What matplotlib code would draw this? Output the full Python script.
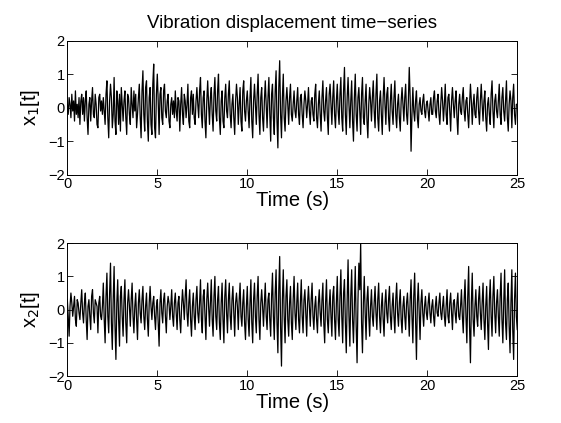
import matplotlib.pyplot as plt
import numpy as np

plt.rcParams['font.family'] = ['Liberation Sans', 'DejaVu Sans']

time_step = 0.05
x1_values = [
    0.1, -0.2, 0.3, 0.1, -0.3, 0.4, -0.1, 0.2, -0.4, 0.5, -0.2, 0.1, -0.3, 0.3, -0.5, 0.2, 0.4, -0.2, 0.3, -0.4,
    0.2, 0.5, -0.3, -0.8, 0.1, 0.3, -0.4, 0.2, 0.6, -0.2, -0.3, 0.4, 0.1, -0.5, -0.6, 0.3, 0.4, -0.1, 0.2, -0.2,
    0.3, -0.1, -0.5, 0.4, 0.8, -0.3, -0.9, 0.2, 0.7, 0.3, -0.6, -0.2, 0.9, -0.4, -0.8, 0.5, 0.2, -0.5, 0.4, -0.7,
    0.6, 0.1, -0.4, 0.2, 0.5, -0.3, -0.8, 0.4, 0.3, -0.2, -0.5, 0.6, 0.1, -0.3, 0.5, -0.1, 0.4, -0.6, -0.2, 0.3,
    0.7, -0.3, -0.9, 0.5, 1.1, -0.2, -0.7, 0.6, 0.8, -0.4, -1.0, 0.3, 0.6, -0.5, -0.8, 0.7, 1.3, -0.6, -0.9, 0.4,
    1.0, 0.2, -0.8, 0.4, 0.6, -0.3, -0.5, 0.5, 0.7, -0.1, -0.3, 0.2, 0.4, -0.4, -0.6, 0.1, 0.3, -0.2, 0.2, -0.3,
    0.5, -0.1, -0.4, 0.3, 0.2, -0.7, 0.1, 0.6, -0.2, -0.5, 0.4, 0.2, -0.3, 0.1, 0.7, -0.4, -0.6, 0.3, 0.5, -0.2,
    0.4, -0.3, -0.5, 0.2, 0.6, 0.1, -0.3, 0.5, 0.9, -0.2, -0.6, 0.3, 0.5, -0.4, -0.9, 0.2, 0.8, 0.1, -0.5, 0.3,
    0.6, -0.2, -0.7, 0.4, 0.9, -0.1, -0.4, 0.5, 1.0, -0.3, -0.8, 0.2, 0.5, -0.4, -0.6, 0.3, 0.7, -0.1, -0.3, 0.4,
    0.8, -0.2, -0.6, 0.1, 0.4, -0.3, -0.8, 0.2, 0.7, 0.3, -0.5, 0.1, 0.6, -0.4, -0.7, 0.5, 0.8, -0.1, -0.4, 0.2,
    0.5, -0.1, -0.6, 0.3, 0.9, -0.4, -0.9, 0.2, 0.7, 0.1, -0.5, 0.4, 1.0, -0.2, -0.8, 0.3, 0.6, -0.3, -0.7, 0.2,
    0.8, 0.1, -0.6, 0.3, 0.9, -0.2, -1.0, 0.4, 0.7, -0.3, -0.8, 0.5, 1.1, -0.4, -1.2, 0.6, 1.4, -0.2, -0.9, 0.3,
    1.0, -0.3, -0.7, 0.2, 0.6, 0.1, -0.5, 0.3, 0.7, -0.2, -0.4, 0.1, 0.5, -0.1, -0.3, 0.2, 0.6, -0.2, -0.5, 0.3,
    0.4, -0.2, -0.6, 0.1, 0.5, 0.2, -0.3, 0.1, 0.6, -0.1, -0.5, 0.2, 0.3, -0.2, -0.4, 0.4, 0.7, -0.3, -0.6, 0.1,
    0.5, -0.2, -0.7, 0.3, 0.8, -0.1, -0.4, 0.2, 0.6, -0.3, -0.8, 0.4, 0.7, 0.1, -0.5, 0.3, 0.8, -0.2, -0.6, 0.2,
    0.7, -0.1, -0.5, 0.4, 0.9, -0.3, -0.7, 0.5, 1.2, -0.2, -0.8, 0.3, 0.9, 0.1, -0.6, 0.2, 0.8, -0.4, -1.0, 0.3,
    1.0, -0.2, -0.7, 0.3, 0.6, -0.1, -0.8, 0.4, 0.9, -0.3, -0.5, 0.2, 0.7, -0.4, -0.9, 0.1, 0.6, 0.2, -0.4, 0.3,
    0.8, -0.1, -0.6, 0.4, 1.0, -0.3, -0.7, 0.2, 0.5, -0.2, -0.8, 0.3, 0.9, 0.1, -0.5, 0.4, 0.6, -0.3, -0.7, 0.2,
    0.7, -0.1, -0.5, 0.3, 0.8, -0.2, -0.6, 0.1, 0.4, -0.3, -0.7, 0.2, 0.6, 0.1, -0.4, 0.3, 0.7, -0.2, -0.5, 0.2,
    1.2, 0.3, -1.3, -0.2, 0.6, -0.1, -0.4, 0.2, 0.5, -0.3, -0.6, 0.1, 0.3, -0.1, -0.2, 0.2, 0.4, -0.1, -0.3, 0.1,
    0.2, -0.1, -0.4, 0.1, 0.3, -0.2, -0.2, 0.3, 0.5, -0.1, -0.3, 0.2, 0.4, -0.2, -0.5, 0.1, 0.6, 0.2, -0.4, 0.1,
    0.7, -0.2, -0.5, 0.3, 0.4, -0.1, -0.7, 0.2, 0.6, 0.1, -0.3, 0.2, 0.5, -0.3, -0.8, 0.1, 0.4, -0.1, -0.2, 0.3,
    0.6, -0.1, -0.4, 0.2, 0.3, -0.2, -0.6, 0.1, 0.7, 0.2, -0.5, 0.1, 0.4, -0.2, -0.3, 0.3, 0.6, -0.1, -0.5, 0.2,
    0.7, 0.1, -0.4, 0.2, 0.5, -0.3, -0.7, 0.1, 0.3, -0.2, -0.5, 0.4, 0.8, -0.1, -0.6, 0.2, 0.4, -0.1, -0.3, 0.2,
    0.7, -0.2, -0.5, 0.3, 0.6, -0.1, -0.4, 0.2, 0.8, -0.3, -0.7, 0.1, 0.5, 0.2, -0.6, 0.3, 0.7, -0.2, -0.5, 0.1,
    0.1,
]
x2_values = [
    0.3, -0.2, -0.8, 0.1, 0.5, 0.2, -0.2, 0.1, 0.4, -0.3, -0.5, 0.3, 0.2, -0.1, -0.3, 0.2, 0.6, -0.1, -0.4, 0.2,
    0.5, -0.3, -0.9, 0.1, 0.3, -0.2, -0.6, 0.4, 0.6, -0.1, -0.4, 0.3, 0.2, 0.1, -0.7, 0.2, 0.4, -0.2, -0.3, 0.1,
    0.8, -0.3, -1.0, 0.4, 1.1, -0.2, -0.7, 0.5, 1.4, -0.4, -1.2, 0.3, 1.3, -0.5, -1.5, 0.2, 0.9, -0.3, -1.1, 0.4,
    0.7, -0.2, -0.8, 0.3, 0.9, -0.4, -1.0, 0.2, 0.6, 0.1, -0.5, 0.3, 0.8, -0.2, -0.7, 0.1, 0.5, -0.3, -0.9, 0.2,
    0.6, -0.1, -0.4, 0.3, 0.7, -0.2, -0.6, 0.1, 0.5, -0.3, -0.8, 0.2, 0.7, 0.1, -0.3, 0.2, 0.4, -0.2, -0.6, 0.1,
    0.3, -0.4, -1.1, 0.2, 0.6, -0.1, -0.4, 0.3, 0.5, -0.2, -0.7, 0.1, 0.4, 0.2, -0.3, 0.1, 0.6, -0.2, -0.5, 0.2,
    0.5, -0.1, -0.6, 0.2, 0.4, -0.3, -0.7, 0.1, 0.6, 0.2, -0.3, 0.4, 0.9, -0.1, -0.5, 0.2, 0.6, -0.3, -0.8, 0.1,
    0.5, -0.2, -0.6, 0.3, 0.7, -0.1, -0.4, 0.2, 0.9, -0.3, -0.7, 0.4, 0.6, -0.2, -0.9, 0.3, 0.8, 0.1, -0.5, 0.2,
    0.9, -0.3, -0.8, 0.4, 1.0, -0.2, -0.6, 0.3, 0.7, -0.4, -0.9, 0.2, 0.8, -0.3, -1.0, 0.4, 0.9, -0.1, -0.7, 0.3,
    0.8, -0.2, -0.6, 0.3, 0.7, -0.1, -0.8, 0.2, 0.5, 0.1, -0.6, 0.3, 0.8, -0.2, -0.5, 0.2, 0.6, -0.4, -0.9, 0.1,
    0.7, -0.3, -0.8, 0.2, 0.9, -0.4, -1.0, 0.3, 0.8, -0.2, -0.7, 0.4, 1.0, -0.3, -0.9, 0.2, 0.6, 0.1, -0.5, 0.2,
    0.8, -0.2, -0.6, 0.3, 0.5, -0.3, -0.8, 0.4, 1.1, -0.2, -0.9, 0.5, 1.2, -0.4, -1.3, 0.6, 1.6, -0.5, -1.7, 0.3,
    1.2, -0.2, -1.0, 0.4, 0.9, -0.3, -0.8, 0.2, 0.7, -0.4, -0.9, 0.3, 1.0, -0.1, -0.6, 0.2, 0.8, -0.3, -0.7, 0.2,
    0.9, -0.2, -0.7, 0.3, 0.6, -0.1, -0.8, 0.2, 0.7, 0.1, -0.5, 0.3, 0.8, -0.2, -0.6, 0.1, 0.4, -0.3, -0.7, 0.2,
    0.6, -0.1, -0.5, 0.3, 0.8, -0.4, -1.0, 0.2, 0.9, -0.3, -0.7, 0.1, 0.6, -0.2, -0.8, 0.4, 0.7, -0.3, -0.9, 0.2,
    1.0, -0.3, -0.8, 0.4, 1.2, -0.2, -1.0, 0.5, 0.9, -0.4, -1.3, 0.3, 1.5, -0.2, -1.1, 0.4, 1.2, -0.3, -1.0, 0.2,
    1.3, -0.5, -1.6, 0.3, 1.4, 0.6, 2.0, -0.4, -1.3, 0.2, 1.0, -0.1, -0.9, 0.3, 0.7, -0.2, -0.8, 0.1, 0.6, -0.2,
    -0.5, 0.2, 0.7, -0.1, -0.6, 0.3, 0.8, -0.2, -0.7, 0.1, 0.5, -0.3, -0.8, 0.2, 0.6, -0.1, -0.4, 0.3, 0.7, -0.2,
    -0.6, 0.1, 0.5, -0.2, -0.7, 0.3, 0.8, -0.1, -0.5, 0.2, 0.6, -0.3, -0.7, 0.1, 0.4, -0.2, -0.6, 0.2, 0.5, -0.1,
    -0.8, 0.3, 0.9, -0.2, -1.0, 0.4, 1.1, -0.3, -1.5, 0.2, 0.8, -0.1, -0.9, 0.2, 0.6, -0.1, -0.5, 0.1, 0.4, -0.1,
    -0.3, 0.2, 0.5, -0.1, -0.4, 0.1, 0.3, -0.2, -0.5, 0.1, 0.4, -0.1, -0.2, 0.2, 0.5, -0.1, -0.3, 0.1, 0.4, -0.2,
    -0.5, 0.1, 0.6, -0.2, -0.4, 0.2, 0.5, -0.1, -0.6, 0.2, 0.3, -0.1, -0.4, 0.2, 0.5, -0.2, -0.3, 0.1, 0.6, -0.2,
    -0.7, 0.3, 0.9, -0.2, -1.0, 0.4, 1.3, -0.5, -1.6, 0.2, 1.1, -0.3, -0.8, 0.1, 0.6, -0.2, -0.5, 0.3, 0.7, -0.1,
    -0.6, 0.2, 0.8, -0.3, -0.9, 0.1, 0.7, -0.4, -1.2, 0.3, 0.9, -0.2, -0.8, 0.4, 1.0, -0.1, -0.7, 0.2, 0.6, -0.2,
    -0.8, 0.4, 1.1, -0.3, -1.0, 0.2, 1.2, -0.4, -0.9, 0.3, 0.8, -0.5, -1.3, 0.2, 1.2, -0.6, -1.5, 0.3, 1.1, -0.2,
    -0.6,
]
x_ticks = [0, 5, 10, 15, 20, 25]
y_ticks = [-2, -1, 0, 1, 2]

fig = plt.figure(figsize=(5.61, 4.23), dpi=100)
ax1 = fig.add_axes([0.120, 0.587, 0.802, 0.317])
ax2 = fig.add_axes([0.120, 0.111, 0.802, 0.314])

for ax, vals, lab in [(ax1, x1_values, 'x$_1$[t]'), (ax2, x2_values, 'x$_2$[t]')]:
    t = np.arange(len(vals)) * time_step
    ax.plot(t, vals, color='black', linewidth=0.9)
    ax.set_xlim(0, 25)
    ax.set_ylim(-2, 2)
    ax.set_xticks(x_ticks)
    ax.set_yticks(y_ticks)
    ax.tick_params(direction='in', top=True, right=True, labelsize=10.5, length=4, width=0.6, pad=2)
    for s in ax.spines.values():
        s.set_linewidth(0.7)
    ax.set_xlabel('Time (s)', fontsize=14.5, labelpad=0)
    ax.set_ylabel(lab, fontsize=14.5, labelpad=4)

ax1.set_title('Vibration displacement time\u2212series', fontsize=13.5, pad=9)

plt.savefig('out.png')
